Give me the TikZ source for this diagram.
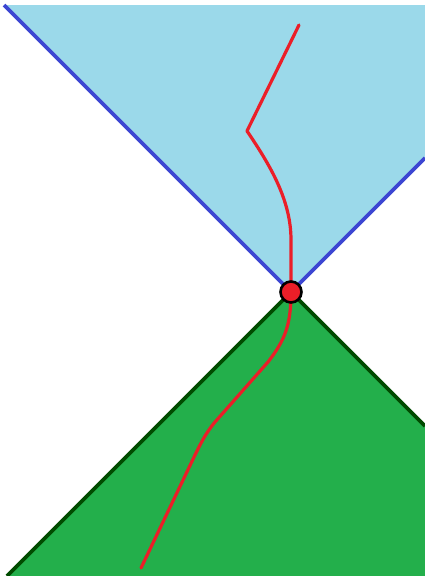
\documentclass[tikz,border=0pt]{standalone}
\begin{document}
\begin{tikzpicture}[x=1pt,y=-1pt,
  futurefill/.style={fill=futureblue},
  pastfill/.style={fill=pastgreen},
  futureedge/.style={draw=edgeblue,line width=3.6pt},
  pastedge/.style={draw=edgegreen,line width=3.6pt},
  worldline/.style={draw=wlred,line width=3.2pt,line join=round,line cap=round},
  eventdot/.style={circle,fill=wlred,draw=black,line width=2.6pt,minimum size=21pt,inner sep=0pt}]
\definecolor{futureblue}{RGB}{155,217,234}
\definecolor{edgeblue}{RGB}{60,70,210}
\definecolor{pastgreen}{RGB}{35,175,75}
\definecolor{edgegreen}{RGB}{0,75,0}
\definecolor{wlred}{RGB}{235,30,40}
\useasboundingbox (0,0) rectangle (425,576);
\begin{scope}
\clip (0,0) rectangle (425,576);
\coordinate (apex) at (291,292);
\coordinate (ftl) at (4,5);
\coordinate (ftr) at (425,5);
\coordinate (fr) at (425,158);
\coordinate (pr) at (425,426);
\coordinate (pbr) at (425,576);
\coordinate (pbl) at (7,576);
\fill[futurefill] (ftl) -- (ftr) -- (fr) -- (apex) -- cycle;
\fill[pastfill] (apex) -- (pr) -- (pbr) -- (pbl) -- cycle;
\draw[futureedge] (ftl) -- (apex) -- (fr);
\draw[pastedge] (pbl) -- (apex) -- (pr);
\coordinate (wtop) at (299,25);
\coordinate (wkink) at (247,131);
\coordinate (wbot) at (141,568);
\draw[worldline] (wtop) -- (wkink) .. controls (270,165) and (291,200) .. (291,240) -- (apex);
\draw[worldline] (apex) .. controls (291,325) and (285,340) .. (268,362) -- (215,422) .. controls (205,434) and (200,445) .. (195,455) -- (wbot);
\node[eventdot] (event) at (apex) {};
\end{scope}
\end{tikzpicture}
\end{document}
